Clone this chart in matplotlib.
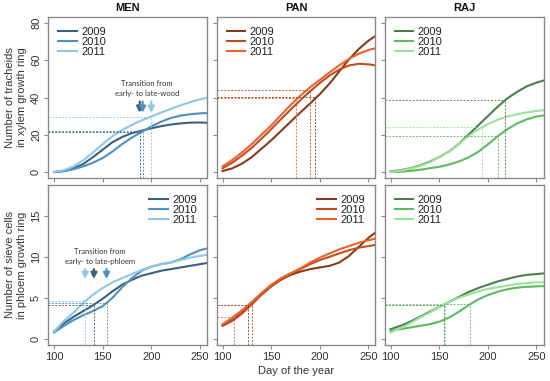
import matplotlib.pyplot as plt

plt.rcParams['font.family'] = ['Liberation Sans', 'DejaVu Sans']

days = [100, 110, 120, 130, 140, 150, 160, 170, 180, 190, 200, 210, 220, 230, 240, 250, 260]
years = ['2009', '2010', '2011']

# xylem (tracheids) per site, one list per year
men_xylem = [
    [0, 0.5, 2, 4.3, 8, 12, 16, 18.8, 20.9, 22.2, 23.5, 24.6, 25.5, 26.1, 26.5, 26.6, 26.4],
    [0, 0.5, 1.5, 3, 5, 7.5, 11, 15, 18.5, 21.5, 24.5, 27, 29, 30.3, 31, 31.5, 31.7],
    [0, 1, 3, 6.3, 10.5, 15, 19.2, 22.6, 25.3, 27.7, 29.8, 31.9, 33.9, 35.8, 37.5, 39, 40.2],
]
pan_xylem = [
    [0.5, 2, 4.5, 8, 12.5, 17, 22, 27, 32, 36.8, 41.8, 47.5, 54, 60.5, 66, 70.5, 74],
    [2, 5, 8.8, 13, 17.8, 23, 28.3, 33.5, 38.6, 43.3, 47.8, 51.8, 55, 57.2, 58.1, 57.8, 57],
    [3, 6.5, 10.5, 15, 20, 25, 30.5, 36, 41, 45.5, 49.5, 53.5, 57.3, 60.7, 63.5, 65.5, 66.8],
]
raj_xylem = [
    [0.3, 1, 2, 3.5, 5.5, 8, 11, 15, 20, 25, 30, 35, 39.5, 43, 46, 48, 49.5],
    [0, 0.2, 0.6, 1.2, 2, 2.8, 4, 5.6, 7.8, 10.8, 14.8, 19.2, 23, 26, 28.3, 29.8, 30.6],
    [0, 0.8, 1.8, 3.2, 5.2, 8, 11, 15, 19.2, 22.8, 25.7, 28, 29.8, 31, 32, 32.8, 33.3],
]

# phloem (sieve cells)
men_phloem = [
    [0.9, 1.9, 2.7, 3.4, 4.1, 4.9, 5.8, 6.6, 7.2, 7.7, 8.0, 8.3, 8.5, 8.7, 8.9, 9.1, 9.3],
    [0.8, 1.6, 2.3, 2.9, 3.4, 4.0, 5.0, 6.3, 7.4, 8.3, 8.8, 9.1, 9.3, 9.7, 10.3, 10.8, 11.1],
    [0.9, 2.2, 3.2, 4.4, 5.4, 6.2, 6.9, 7.4, 7.9, 8.4, 8.8, 9.1, 9.3, 9.6, 9.9, 10.1, 10.3],
]
pan_phloem = [
    [1.7, 2.3, 3.2, 4.3, 5.4, 6.4, 7.2, 7.8, 8.2, 8.5, 8.7, 8.9, 9.3, 10.1, 11.2, 12.3, 13.2],
    [1.6, 2.2, 3.1, 4.2, 5.4, 6.5, 7.3, 7.9, 8.5, 9.1, 9.6, 10.0, 10.4, 10.8, 11.1, 11.3, 11.5],
    [1.8, 2.6, 3.5, 4.5, 5.6, 6.6, 7.4, 8.0, 8.6, 9.3, 9.9, 10.4, 10.9, 11.3, 11.7, 12.0, 12.3],
]
raj_phloem = [
    [1.2, 1.6, 2.1, 2.7, 3.3, 3.9, 4.5, 5.1, 5.7, 6.2, 6.6, 7.0, 7.3, 7.6, 7.8, 7.9, 8.0],
    [1.0, 1.2, 1.4, 1.6, 1.8, 2.1, 2.6, 3.3, 4.1, 4.8, 5.35, 5.75, 6.05, 6.25, 6.35, 6.4, 6.45],
    [0.8, 1.3, 1.9, 2.6, 3.2, 3.9, 4.5, 5.0, 5.4, 5.8, 6.1, 6.3, 6.5, 6.7, 6.8, 6.9, 6.9],
]

# early->late transition: day and value per year
men_xylem_tr_day = [188, 191, 200]
men_xylem_tr_val = [21.5, 22, 29.7]
pan_xylem_tr_day = [195, 190, 176]
pan_xylem_tr_val = [40.5, 44, 40]
raj_xylem_tr_day = [218, 210, 194]
raj_xylem_tr_val = [38.6, 19.5, 24]

men_phloem_tr_day = [141, 154, 132]
men_phloem_tr_val = [4.2, 4.4, 4.6]
pan_phloem_tr_day = [126, 130, 112]
pan_phloem_tr_val = [4.15, 4.15, 2.66]
raj_phloem_tr_day = [155, 182, 156]
raj_phloem_tr_val = [4.2, 4.25, 4.3]

sites = ['MEN', 'PAN', 'RAJ']
colors = {
    'MEN': ['#3d5f7e', '#4f8fc2', '#8ec7ea'],
    'PAN': ['#8a3a1c', '#c14c22', '#ea632c'],
    'RAJ': ['#4f7d4f', '#5fba5f', '#9ae39a'],
}

xylem = {'MEN': men_xylem, 'PAN': pan_xylem, 'RAJ': raj_xylem}
phloem = {'MEN': men_phloem, 'PAN': pan_phloem, 'RAJ': raj_phloem}
xylem_tr = {'MEN': (men_xylem_tr_day, men_xylem_tr_val),
            'PAN': (pan_xylem_tr_day, pan_xylem_tr_val),
            'RAJ': (raj_xylem_tr_day, raj_xylem_tr_val)}
phloem_tr = {'MEN': (men_phloem_tr_day, men_phloem_tr_val),
             'PAN': (pan_phloem_tr_day, pan_phloem_tr_val),
             'RAJ': (raj_phloem_tr_day, raj_phloem_tr_val)}

xlim = (93.8, 257.2)
ylim_top = (-3.2, 83.2)
ylim_bot = (-0.72, 18.72)

fig = plt.figure(figsize=(5.5, 3.81), dpi=100)
W, H = 550, 381
lefts = [48, 216.5, 384.5]
pw = 159


def make_ax(left, top, bottom):
    return fig.add_axes([left / W, 1 - bottom / H, pw / W, (bottom - top) / H])


def style(ax, ylim, yticks, show_y, show_x):
    ax.set_xlim(xlim)
    ax.set_ylim(ylim)
    ax.set_xticks([100, 150, 200, 250])
    ax.set_yticks(yticks)
    for s in ax.spines.values():
        s.set_color('#8a8a8a')
        s.set_linewidth(1.0)
    ax.tick_params(direction='out', length=3, width=0.8, color='#8a8a8a',
                   labelsize=8, labelcolor='#333333', pad=2)
    if show_y:
        for lab in ax.get_yticklabels():
            lab.set_rotation(90)
            lab.set_va('center')
    else:
        ax.set_yticklabels([])
    if not show_x:
        ax.set_xticklabels([])


def draw(ax, site, series, tr, ylim, loc):
    cols = colors[site]
    for i, yr in enumerate(years):
        ax.plot(days, series[i], color=cols[i], lw=1.5, label=yr,
                solid_joinstyle='round')
    tdays, tvals = tr
    for i in range(3):
        ax.plot([xlim[0], tdays[i]], [tvals[i], tvals[i]], color=cols[i],
                lw=0.7, ls=(0, (2, 1.5)), alpha=0.9)
        ax.plot([tdays[i], tdays[i]], [ylim[0], tvals[i]], color=cols[i],
                lw=0.7, ls=(0, (2, 1.5)), alpha=0.9)
    leg = ax.legend(loc=loc, frameon=False, fontsize=8, handlelength=1.7,
                    handletextpad=0.4, labelspacing=0.0, borderaxespad=0.5)
    for t in leg.get_texts():
        t.set_color('#222222')


for j, site in enumerate(sites):
    ax = make_ax(lefts[j], 17, 178)
    draw(ax, site, xylem[site], xylem_tr[site], ylim_top, 'upper left')
    style(ax, ylim_top, [0, 20, 40, 60, 80], j == 0, False)
    ax.set_title(site, fontsize=8, fontweight='bold', pad=4, color='#111111')
    if j == 0:
        ax.set_ylabel('Number of tracheids\nin xylem growth ring', fontsize=8,
                      color='#333333', labelpad=3)
        for d, c in zip(men_xylem_tr_day, colors['MEN']):
            ax.annotate('', xy=(d, 31.8), xytext=(d, 37.8),
                        arrowprops=dict(arrowstyle='-|>,head_width=0.18,head_length=0.35',
                                        color=c, lw=1.6, shrinkA=0, shrinkB=0))
        ax.text(195.5, 44.8, 'Transition from\nearly- to late-wood', fontsize=5.5,
                ha='center', va='center', color='#333333', family=['Lato', 'DejaVu Sans'],
                linespacing=1.5)

    ax = make_ax(lefts[j], 185, 345)
    loc = 'upper left' if site == 'RAJ' else 'upper right'
    draw(ax, site, phloem[site], phloem_tr[site], ylim_bot, loc)
    style(ax, ylim_bot, [0, 5, 10, 15], j == 0, True)
    if j == 0:
        ax.set_ylabel('Number of sieve cells\nin phloem growth ring', fontsize=8,
                      color='#333333', labelpad=3)
        for d, c in zip([132, 141, 154], [colors['MEN'][2], colors['MEN'][0], colors['MEN'][1]]):
            ax.annotate('', xy=(d, 7.3), xytext=(d, 8.5),
                        arrowprops=dict(arrowstyle='-|>,head_width=0.18,head_length=0.35',
                                        color=c, lw=1.6, shrinkA=0, shrinkB=0))
        ax.text(147, 10.0, 'Transition from\nearly- to late-phloem', fontsize=5.5,
                ha='center', va='center', color='#333333', family=['Lato', 'DejaVu Sans'],
                linespacing=1.5)
    if j == 1:
        ax.set_xlabel('Day of the year', fontsize=8, color='#333333', labelpad=3)

fig.savefig('out.png', dpi=100)
